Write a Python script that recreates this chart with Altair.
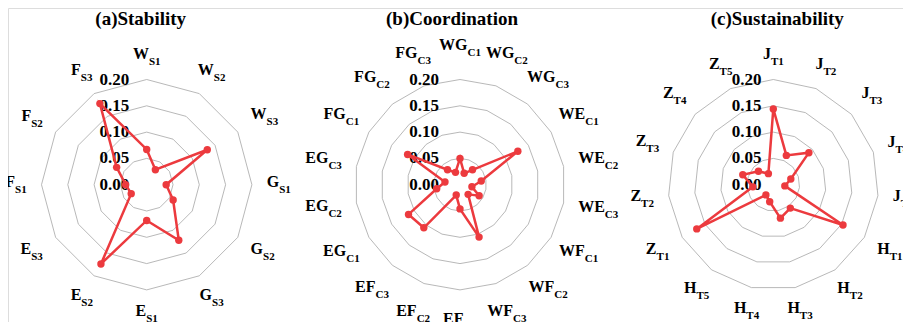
import math
import altair as alt
import pandas as pd

# ---------------- data ----------------
titles = ["(a)Stability", "(b)Coordination", "(c)Sustainability"]

stab_main = ["W", "W", "W", "G", "G", "G", "E", "E", "E", "F", "F", "F"]
stab_sub = ["S1", "S2", "S3", "S1", "S2", "S3", "S1", "S2", "S3", "S1", "S2", "S3"]
stab_vals = [0.067, 0.033, 0.133, 0.037, 0.058, 0.122, 0.068, 0.174, 0.034, 0.040, 0.066, 0.178]

coord_main = ["WG", "WG", "WG", "WE", "WE", "WE", "WF", "WF", "WF",
              "EF", "EF", "EF", "EG", "EG", "EG", "FG", "FG", "FG"]
coord_sub = ["C1", "C2", "C3"] * 6
coord_vals = [0.050, 0.023, 0.037, 0.127, 0.041, 0.023, 0.042, 0.024, 0.106,
              0.046, 0.021, 0.107, 0.113, 0.045, 0.029, 0.115, 0.037, 0.025]

sust_main = ["J"] * 5 + ["H"] * 5 + ["Z"] * 5
sust_sub = ["T1", "T2", "T3", "T4", "T5"] * 3
sust_vals = [0.144, 0.061, 0.091, 0.035, 0.022,
             0.153, 0.055, 0.065, 0.033, 0.024,
             0.168, 0.039, 0.061, 0.038, 0.023]

ring_levels = [0.05, 0.10, 0.15, 0.20]
tick_levels = [0.00, 0.05, 0.10, 0.15, 0.20]

# ---------------- layout / style ----------------
W, H = 895, 314
PXU = 526.0                 # pixels per data unit
CX0, CY = 138.7, 176.7      # first radar centre in plot pixels
SP = 313.3 / PXU            # spacing between radar centres (data units)
R0 = 120.0                  # label box inner edge distance from centre (px)
RMIN = [0.0, 137.0, 0.0]    # minimum label-centre radius per panel (px)
LAB_H = 17.0                # composite label height (px)
TICK_DX = [-17.4, -21.0, -11.7]
TITLE_DX = [-6.0, -8.0, 4.0]
TITLE_Y = 24.5 - 8
RED = "#ec3a3e"
GRID = "#a6a6a6"
FONT = "'Liberation Serif', 'Times New Roman', Times, serif"

XDOM = [-CX0 / PXU, (W - CX0) / PXU]
YDOM = [-(H - CY) / PXU, CY / PXU]

# approximate Times-bold advance widths (per 1000 em) for placing labels
CW = {"W": 1000, "G": 778, "E": 667, "F": 611, "J": 500, "H": 778, "Z": 667,
      "S": 556, "C": 722, "T": 667, "1": 500, "2": 500, "3": 500, "4": 500, "5": 500}
MAIN_FS, SUB_FS = 16, 11


def text_w(s, fs):
    return sum(CW.get(c, 500) for c in s) * fs / 1000.0


def label_radius(w, th, rmin):
    s, c = abs(math.sin(th)), abs(math.cos(th))
    dx = (w / 2) / s if s > 1e-9 else float("inf")
    dy = (LAB_H / 2) / c if c > 1e-9 else float("inf")
    return max(R0 + min(dx, dy), rmin) / PXU


panels = [(stab_main, stab_sub, stab_vals),
          (coord_main, coord_sub, coord_vals),
          (sust_main, sust_sub, sust_vals)]

pts_rows, ring_rows, lab_rows, tick_rows, title_rows = [], [], [], [], []
for p, (mains, subs, vals) in enumerate(panels):
    n = len(vals)
    for i in range(n):
        pts_rows.append({"panel": p, "idx": i, "n": n, "value": vals[i]})
        wm, ws = text_w(mains[i], MAIN_FS), text_w(subs[i], SUB_FS)
        lab_rows.append({"panel": p, "idx": i, "n": n, "main": mains[i],
                         "sub": subs[i], "off": (wm - ws) / 2.0,
                         "rl": label_radius(wm + ws, 2 * math.pi * i / n, RMIN[p])})
        for r in ring_levels:
            ring_rows.append({"panel": p, "idx": i, "n": n, "ring": r})
    for lv in tick_levels:
        tick_rows.append({"panel": p, "level": lv, "tdx": TICK_DX[p],
                          "txt": f"{lv:.2f}"})
    title_rows.append({"panel": p, "title": titles[p], "tdx": TITLE_DX[p]})

pts_df = pd.DataFrame(pts_rows)
ring_df = pd.DataFrame(ring_rows)
lab_df = pd.DataFrame(lab_rows)
tick_df = pd.DataFrame(tick_rows)
title_df = pd.DataFrame(title_rows)

x_enc = alt.X("x:Q", scale=alt.Scale(domain=XDOM, nice=False, zero=False), axis=None)
y_enc = alt.Y("y:Q", scale=alt.Scale(domain=YDOM, nice=False, zero=False), axis=None)

theta = "2*PI*datum.idx/datum.n"

rings = (
    alt.Chart(ring_df)
    .transform_calculate(theta=theta)
    .transform_calculate(x=f"datum.panel*{SP} + datum.ring*sin(datum.theta)")
    .transform_calculate(y="datum.ring*cos(datum.theta)")
    .transform_calculate(grp="datum.panel + '_' + datum.ring")
    .mark_line(interpolate="linear-closed", color=GRID, strokeWidth=0.8)
    .encode(x=x_enc, y=y_enc, detail="grp:N", order="idx:Q")
)

ticks = (
    alt.Chart(tick_df)
    .transform_calculate(x=f"datum.panel*{SP} + datum.tdx/{PXU}")
    .transform_calculate(y="datum.level")
    .mark_text(align="right", baseline="middle", font=FONT, fontSize=17,
               fontWeight="bold", color="black")
    .encode(x=x_enc, y=y_enc, text="txt:N")
)

base_pts = (
    alt.Chart(pts_df)
    .transform_calculate(theta=theta)
    .transform_calculate(x=f"datum.panel*{SP} + datum.value*sin(datum.theta)")
    .transform_calculate(y="datum.value*cos(datum.theta)")
)

line = base_pts.mark_line(interpolate="linear-closed", color=RED, strokeWidth=2.5).encode(
    x=x_enc, y=y_enc, detail="panel:N", order="idx:Q")

dots = base_pts.mark_circle(size=55, color=RED, opacity=1).encode(x=x_enc, y=y_enc)

base_lab = (
    alt.Chart(lab_df)
    .transform_calculate(theta=theta)
    .transform_calculate(x=f"datum.panel*{SP} + datum.rl*sin(datum.theta) + datum.off/{PXU}")
    .transform_calculate(y="datum.rl*cos(datum.theta)")
)

lab_main = base_lab.mark_text(align="right", baseline="alphabetic", dy=2.5, font=FONT,
                              fontSize=MAIN_FS, fontWeight="bold", color="black").encode(
    x=x_enc, y=y_enc, text="main:N")

lab_sub = base_lab.mark_text(align="left", baseline="alphabetic", dy=8.5, font=FONT,
                             fontSize=SUB_FS, fontWeight="bold", color="black").encode(
    x=x_enc, y=y_enc, text="sub:N")

title_layer = (
    alt.Chart(title_df)
    .transform_calculate(x=f"datum.panel*{SP} + datum.tdx/{PXU}")
    .mark_text(align="center", baseline="alphabetic", font=FONT, fontSize=19,
               fontWeight="bold", color="black")
    .encode(x=x_enc, y=alt.value(TITLE_Y), text="title:N")
)

chart = (
    alt.layer(rings, ticks, line, dots, lab_main, lab_sub, title_layer)
    .properties(width=W, height=H, padding=0,
                autosize=alt.AutoSizeParams(type="none"))
    .configure_view(strokeWidth=0)
    .configure(background="white")
)

chart.save("out.html", embed_options={"renderer": "svg", "actions": False})
